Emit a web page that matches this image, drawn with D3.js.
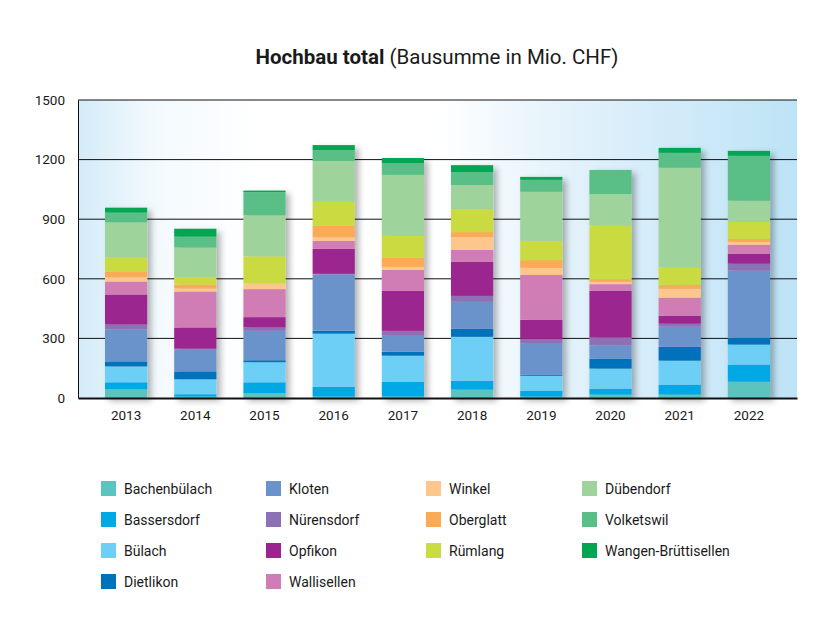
<!DOCTYPE html>
<html><head><meta charset="utf-8">
<script src="https://cdn.jsdelivr.net/npm/d3@7"></script>
<style>body{margin:0;background:#fff;} svg{display:block;font-family:Roboto,"Noto Sans",sans-serif;}</style>
</head><body>
<svg id="chart" width="835" height="643"></svg>
<script>
const years = ["2013","2014","2015","2016","2017","2018","2019","2020","2021","2022"];
const seriesNames = ["Bachenbülach","Bassersdorf","Bülach","Dietlikon","Kloten","Nürensdorf","Opfikon","Wallisellen","Winkel","Oberglatt","Rümlang","Dübendorf","Volketswil","Wangen-Brüttisellen"];
const seriesColors = ["#5bc4bf","#00a9e6","#6dcff6","#0072bc","#6a93cc","#8c72b5","#9b258f","#d07cb5","#fdc68c","#fbaa55","#cadb43","#9fd39c","#5abf86","#00a651"];
const bachenbuelach = [44, 7, 25, 7, 7, 42, 7, 17, 17, 82];
const bassersdorf   = [35, 12, 54, 50, 75, 45, 30, 30, 50, 86];
const buelach       = [80, 75, 101, 267, 131, 221, 75, 101, 121, 101];
const dietlikon     = [25, 40, 10, 15, 20, 40, 5, 50, 70, 35];
const kloten        = [161, 109, 148, 283, 80, 136, 156, 67, 101, 337];
const nuerensdorf   = [25, 5, 17, 3, 25, 30, 25, 39, 15, 35];
const opfikon       = [151, 107, 52, 126, 201, 171, 96, 236, 40, 50];
const wallisellen   = [65, 181, 141, 40, 106, 60, 226, 33, 91, 45];
const winkel        = [22, 15, 28, 18, 15, 65, 35, 12, 45, 15];
const oberglatt     = [28, 20, 0, 57, 45, 25, 39, 10, 20, 15];
const ruemlang      = [72, 37, 137, 121, 111, 116, 97, 273, 86, 86];
const duebendorf    = [176, 149, 206, 206, 307, 121, 247, 159, 503, 106];
const volketswil    = [49, 55, 117, 55, 60, 65, 60, 121, 75, 226];
const wangen        = [25, 40, 8, 25, 25, 35, 15, 0, 25, 25];
const yTicks = [0, 300, 600, 900, 1200, 1500];

const allSeries = [bachenbuelach,bassersdorf,buelach,dietlikon,kloten,nuerensdorf,opfikon,wallisellen,winkel,oberglatt,ruemlang,duebendorf,volketswil,wangen];
const table = years.map((y,i)=>{const o={year:y}; seriesNames.forEach((n,j)=>o[n]=allSeries[j][i]); return o;});

const svg = d3.select("#chart");
const L=78, R=797, T=100, B=398;
const x = d3.scaleBand().domain(years).range([L,R]).paddingInner(0.39).paddingOuter(0.39);
const y = d3.scaleLinear().domain([0,1500]).range([B,T]);
const color = d3.scaleOrdinal().domain(seriesNames).range(seriesColors);

const defs = svg.append("defs");
const grad = defs.append("linearGradient").attr("id","bg").attr("x1","0").attr("x2","1").attr("y1","0").attr("y2","0");
[[0,"#d3ebf8"],[0.1,"#f2f9fd"],[0.25,"#ffffff"],[0.5,"#ffffff"],[0.68,"#e3f2fb"],[1,"#bde3f6"]].forEach(s=>grad.append("stop").attr("offset",s[0]).attr("stop-color",s[1]));
const f = defs.append("filter").attr("id","shadow").attr("x","-20%").attr("y","-10%").attr("width","150%").attr("height","130%");
f.append("feDropShadow").attr("dx",4).attr("dy",3).attr("stdDeviation",3).attr("flood-color","#000").attr("flood-opacity",0.3);

svg.append("rect").attr("x",L).attr("y",T).attr("width",R-L).attr("height",B-T).attr("fill","url(#bg)");

// gridlines
svg.append("g").selectAll("line").data(yTicks.filter(d=>d>0)).join("line")
  .attr("x1",L).attr("x2",R).attr("y1",d=>y(d)).attr("y2",d=>y(d))
  .attr("stroke","#111").attr("stroke-width",1);

// bars
const stack = d3.stack().keys(seriesNames)(table);
const barG = svg.append("g");
years.forEach((yr,i)=>{
  const g = barG.append("g").attr("filter","url(#shadow)");
  g.selectAll("rect").data(stack.map(s=>({key:s.key, v:s[i]}))).join("rect")
    .attr("x",x(yr)).attr("width",x.bandwidth())
    .attr("y",d=>y(d.v[1])).attr("height",d=>y(d.v[0])-y(d.v[1]))
    .attr("fill",d=>color(d.key));
});

// axes
const yAxis = svg.append("g").attr("transform",`translate(${L},0)`)
  .call(d3.axisLeft(y).tickValues(yTicks).tickFormat(d3.format("d")).tickSize(0).tickPadding(13));
yAxis.select(".domain").attr("stroke","#111").attr("stroke-width",1);
yAxis.selectAll("text").attr("font-size","13.5px").attr("fill","#1a1a1a").attr("font-family","Roboto,sans-serif");

const xAxis = svg.append("g").attr("transform",`translate(0,${B})`)
  .call(d3.axisBottom(x).tickSize(0).tickPadding(12));
xAxis.select(".domain").attr("stroke","#111").attr("stroke-width",2);
xAxis.selectAll("text").attr("font-size","13.5px").attr("fill","#1a1a1a").attr("font-family","Roboto,sans-serif");

// title
const title = svg.append("text").attr("x",437).attr("y",64).attr("text-anchor","middle")
  .attr("font-size","20.5px").attr("fill","#1a1a1a");
title.append("tspan").attr("font-weight","bold").text("Hochbau total");
title.append("tspan").text(" (Bausumme in Mio. CHF)");

// legend
const colX = [101, 266, 426, 582];
const legendItems = seriesNames.map((n,i)=>{
  let col,row;
  if(i<4){col=0;row=i;} else if(i<8){col=1;row=i-4;} else if(i<11){col=2;row=i-8;} else {col=3;row=i-11;}
  return {n,col,row};
});
const lg = svg.append("g").selectAll("g").data(legendItems).join("g")
  .attr("transform",d=>`translate(${colX[d.col]},${481+d.row*31})`);
lg.append("rect").attr("width",15).attr("height",15).attr("fill",d=>color(d.n));
lg.append("text").attr("x",23).attr("y",12.5).attr("font-size","14px").attr("fill","#1a1a1a").text(d=>d.n);
</script>
</body></html>
